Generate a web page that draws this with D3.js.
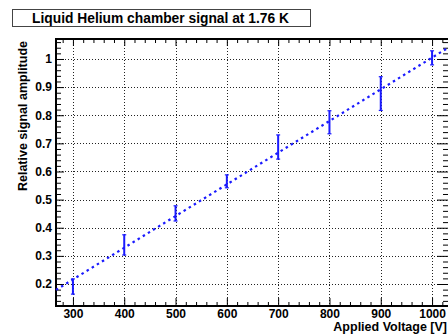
<!DOCTYPE html>
<html>
<head>
<meta charset="utf-8">
<script src="https://cdn.jsdelivr.net/npm/d3@7"></script>
<style>
  body { margin: 0; background: #fff; }
  #chart svg { display: block; }
  text { font-family: "Liberation Sans", Arial, sans-serif; font-weight: bold; }
</style>
</head>
<body>
<div id="chart"></div>
<script>
"use strict";

// data
var voltages = [300, 400, 500, 600, 700, 800, 900, 1000];
var amplitudes = [0.191, 0.339, 0.451, 0.565, 0.687, 0.775, 0.877, 1.004];
var errors = [0.027, 0.036, 0.027, 0.023, 0.043, 0.041, 0.060, 0.025];

// fit line end points (voltage, amplitude)
var fitVoltages = [267, 1033];
var fitAmplitudes = [0.179, 1.042];

var xTicks = [300, 400, 500, 600, 700, 800, 900, 1000];
var yTicks = [0.2, 0.3, 0.4, 0.5, 0.6, 0.7, 0.8, 0.9, 1];

var titleText = "Liquid Helium chamber signal at 1.76 K";
var xTitle = "Applied Voltage [V]";
var yTitle = "Relative signal amplitude";

var visualize = function() {
  // == BOILERPLATE ==
  var W = 448, H = 336;
  var margin = { top: 39, right: -1, bottom: 30, left: 56 },
      width = W - margin.left - margin.right,
      height = H - margin.top - margin.bottom;

  var root = d3.select("#chart")
               .append("svg")
               .attr("width", W)
               .attr("height", H);

  var svg = root.append("g")
                .attr("transform", "translate(" + margin.left + "," + margin.top + ")");

  // scales
  var xScale = d3.scaleLinear().domain([267, 1033]).range([0, width]);
  var yScale = d3.scaleLinear().domain([0.1218, 1.071]).range([height, 0]);

  var xMinor = d3.range(280, 1033, 20).filter(function(v) { return v % 100 !== 0; });
  var yMinor = d3.range(0.14, 1.071, 0.02)
                 .map(function(v) { return Math.round(v * 100) / 100; })
                 .filter(function(v) { return Math.round(v * 100) % 10 !== 0; });

  // == GRID ==
  var grid = svg.append("g")
                .attr("stroke", "#222")
                .attr("stroke-width", 1)
                .attr("stroke-dasharray", "1,2");
  grid.selectAll("line.gx")
      .data(xTicks)
      .enter()
      .append("line")
      .attr("x1", function(d) { return Math.round(xScale(d)) + 0.5; })
      .attr("x2", function(d) { return Math.round(xScale(d)) + 0.5; })
      .attr("y1", 0)
      .attr("y2", height);
  grid.selectAll("line.gy")
      .data(yTicks)
      .enter()
      .append("line")
      .attr("y1", function(d) { return Math.round(yScale(d)) + 0.5; })
      .attr("y2", function(d) { return Math.round(yScale(d)) + 0.5; })
      .attr("x1", 0)
      .attr("x2", width);

  // == AXES (ticks point inwards, on all four sides) ==
  var fmt = function(d) { return d3.format("")(d); };

  var addAxis = function(axis, transform) {
    var g = svg.append("g").attr("transform", transform).call(axis);
    g.select(".domain").remove();
    g.selectAll("line").attr("stroke", "#000").attr("stroke-width", 1);
    return g;
  };

  // bottom
  var bx = addAxis(d3.axisBottom(xScale).tickValues(xTicks).tickSize(-8).tickPadding(3).tickFormat(fmt),
                   "translate(0," + height + ")");
  bx.selectAll("text").attr("font-size", 12).attr("fill", "#000");
  addAxis(d3.axisBottom(xScale).tickValues(xMinor).tickSize(-4).tickFormat(""),
          "translate(0," + height + ")");
  // top
  addAxis(d3.axisTop(xScale).tickValues(xTicks).tickSize(-7).tickFormat(""), "translate(0,0)");
  addAxis(d3.axisTop(xScale).tickValues(xMinor).tickSize(-4).tickFormat(""), "translate(0,0)");
  // left
  var ly = addAxis(d3.axisLeft(yScale).tickValues(yTicks).tickSize(-8).tickPadding(4).tickFormat(fmt),
                   "translate(0,0)");
  ly.selectAll("text").attr("font-size", 12).attr("fill", "#000");
  addAxis(d3.axisLeft(yScale).tickValues(yMinor).tickSize(-5).tickFormat(""), "translate(0,0)");
  // right
  addAxis(d3.axisRight(yScale).tickValues(yTicks).tickSize(-12).tickFormat(""),
          "translate(" + width + ",0)");
  addAxis(d3.axisRight(yScale).tickValues(yMinor).tickSize(-6).tickFormat(""),
          "translate(" + width + ",0)");

  // frame
  svg.append("rect")
     .attr("x", 0)
     .attr("y", 0)
     .attr("width", width)
     .attr("height", height)
     .attr("fill", "none")
     .attr("stroke", "#000")
     .attr("stroke-width", 2);

  // == FIT LINE ==
  var fitData = fitVoltages.map(function(v, i) { return [v, fitAmplitudes[i]]; });
  svg.append("path")
     .datum(fitData)
     .attr("d", d3.line()
                  .x(function(d) { return xScale(d[0]); })
                  .y(function(d) { return yScale(d[1]); }))
     .attr("fill", "none")
     .attr("stroke", "#1a1aff")
     .attr("stroke-width", 2.2)
     .attr("stroke-dasharray", "2.5,3.5");

  // == ERROR BARS ==
  var pts = voltages.map(function(v, i) {
    return { v: v, a: amplitudes[i], e: errors[i] };
  });
  var bars = svg.selectAll("g.err")
                .data(pts)
                .enter()
                .append("g")
                .attr("stroke", "#1a1aff");
  bars.append("line")
      .attr("x1", function(d) { return xScale(d.v); })
      .attr("x2", function(d) { return xScale(d.v); })
      .attr("y1", function(d) { return yScale(d.a + d.e); })
      .attr("y2", function(d) { return yScale(d.a - d.e); })
      .attr("stroke-width", 2);
  [1, -1].forEach(function(s) {
    bars.append("line")
        .attr("x1", function(d) { return xScale(d.v) - 2; })
        .attr("x2", function(d) { return xScale(d.v) + 2; })
        .attr("y1", function(d) { return yScale(d.a + s * d.e); })
        .attr("y2", function(d) { return yScale(d.a + s * d.e); })
        .attr("stroke-width", 1.2);
  });

  // == TITLES ==
  root.append("text")
      .attr("x", W - 1)
      .attr("y", 331)
      .attr("text-anchor", "end")
      .attr("font-size", 12.5)
      .text(xTitle);

  root.append("text")
      .attr("transform", "translate(27,41) rotate(-90)")
      .attr("text-anchor", "end")
      .attr("font-size", 12.5)
      .text(yTitle);

  // title box
  root.append("rect")
      .attr("x", 12.5)
      .attr("y", 9.5)
      .attr("width", 298)
      .attr("height", 17)
      .attr("fill", "#fff")
      .attr("stroke", "#444")
      .attr("stroke-width", 1);
  root.append("text")
      .attr("x", 160.5)
      .attr("y", 22.5)
      .attr("text-anchor", "middle")
      .attr("font-size", 13.8)
      .text(titleText);
};

visualize();
</script>
</body>
</html>
